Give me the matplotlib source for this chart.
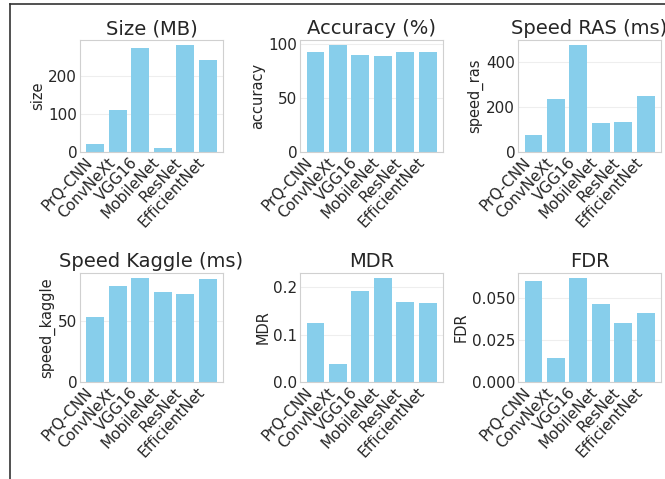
import matplotlib
matplotlib.use("Agg")
import matplotlib.pyplot as plt
from matplotlib.lines import Line2D

models = ["PrQ-CNN", "ConvNeXt", "VGG16", "MobileNet", "ResNet", "EfficientNet"]
size_mb = [22, 112, 274, 10, 282, 243]
accuracy = [92.5, 98.5, 90, 89, 92.5, 92.5]
speed_ras = [77, 234, 473, 130, 132, 248]
speed_kaggle = [53, 78, 84.5, 73, 72, 84]
mdr = [0.124, 0.039, 0.192, 0.219, 0.168, 0.166]
fdr = [0.0600, 0.0140, 0.0615, 0.0465, 0.0350, 0.0410]

panels = [
    ("Size (MB)", "size", size_mb),
    ("Accuracy (%)", "accuracy", accuracy),
    ("Speed RAS (ms)", "speed_ras", speed_ras),
    ("Speed Kaggle (ms)", "speed_kaggle", speed_kaggle),
    ("MDR", "MDR", mdr),
    ("FDR", "FDR", fdr),
]

plt.rcParams['font.family'] = ['DejaVu Sans']
W, H = 665, 479
fig = plt.figure(figsize=(W / 100, H / 100), dpi=100)

lefts = [80, 300, 518]
width = 143
rows = [(40, 152), (273, 382)]

text_color = '#262626'
for i, (title, ylabel, vals) in enumerate(panels):
    r, c = divmod(i, 3)
    top, bot = rows[r]
    ax = fig.add_axes([lefts[c] / W, 1 - bot / H, width / W, (bot - top) / H])
    ax.set_axisbelow(True)
    ax.yaxis.grid(True, color='#eeeeee', linewidth=0.8)
    ax.bar(models, vals, color='skyblue', width=0.8)
    ax.set_title(title, fontsize=14, color=text_color, pad=4)
    ax.set_ylabel(ylabel, fontsize=10.5, color=text_color, labelpad=2)
    for s in ax.spines.values():
        s.set_color('#d0d0d0')
        s.set_linewidth(0.8)
    ax.tick_params(axis='both', length=0, labelsize=11, colors=text_color, pad=2)
    plt.setp(ax.get_xticklabels(), rotation=47, ha='right')

# screenshot frame
fig.add_artist(Line2D([10 / W, 1], [1 - 4 / H, 1 - 4 / H], color='#333333', linewidth=1.2, transform=fig.transFigure))
fig.add_artist(Line2D([10 / W, 10 / W], [0, 1 - 4 / H], color='#333333', linewidth=1.2, transform=fig.transFigure))

fig.savefig("out.png", dpi=100)
